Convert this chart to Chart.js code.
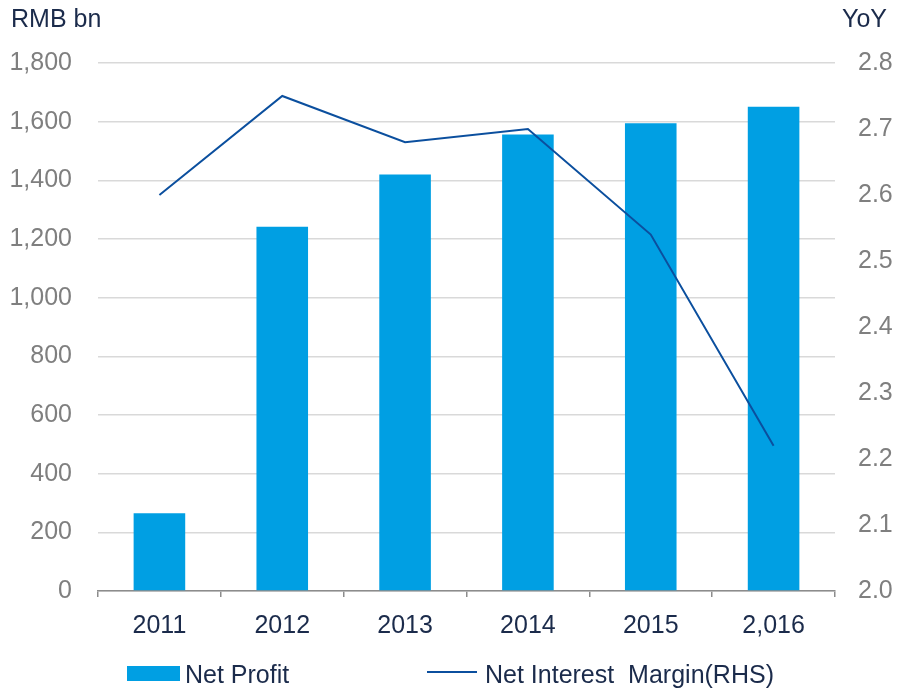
<!DOCTYPE html>
<html>
<head>
<meta charset="utf-8">
<script src="https://cdn.jsdelivr.net/npm/chart.js@4/dist/chart.umd.min.js"></script>
<style>
  html, body { margin: 0; padding: 0; background: #fff; }
  #wrap { width: 897px; height: 693px; position: relative; }
</style>
</head>
<body>
<div id="wrap"><canvas id="c" width="897" height="693"></canvas></div>
<script>
const categories = ['2011', '2012', '2013', '2014', '2015', '2,016'];
const netProfit = [265, 1242, 1420, 1556, 1595, 1651];
const netInterestMargin = [2.60, 2.75, 2.68, 2.70, 2.54, 2.22];
const leftTicks = [0, 200, 400, 600, 800, 1000, 1200, 1400, 1600, 1800];
const rightTicks = [2.0, 2.1, 2.2, 2.3, 2.4, 2.5, 2.6, 2.7, 2.8];
const leftTitle = 'RMB bn';
const rightTitle = 'YoY';
const seriesNames = ['Net Profit', 'Net Interest  Margin(RHS)'];

const FONT = '"Liberation Sans", Arial, sans-serif';
const FS = 25;
const NAVY = '#1b2b4b';
const GRAY = '#7f7f7f';
const BAR = '#009fe3';
const LINE = '#0b4f9e';

const extras = {
  id: 'extras',
  afterDraw(chart) {
    const ctx = chart.ctx;
    ctx.save();
    ctx.font = FS + 'px ' + FONT;
    ctx.fillStyle = NAVY;
    ctx.textBaseline = 'middle';
    ctx.textAlign = 'left';
    ctx.fillText(leftTitle, 11, 20);
    ctx.fillText(rightTitle, 842, 20);
    // legend
    ctx.fillStyle = BAR;
    ctx.fillRect(127, 666, 53, 15);
    ctx.fillStyle = NAVY;
    ctx.fillText(seriesNames[0], 185, 676);
    ctx.strokeStyle = LINE;
    ctx.lineWidth = 2;
    ctx.beginPath();
    ctx.moveTo(427, 672);
    ctx.lineTo(477, 672);
    ctx.stroke();
    ctx.fillText(seriesNames[1], 485, 676);
    ctx.restore();
  }
};

new Chart(document.getElementById('c'), {
  type: 'bar',
  data: {
    labels: categories,
    datasets: [
      {
        type: 'line',
        label: seriesNames[1],
        data: netInterestMargin,
        yAxisID: 'y1',
        borderColor: LINE,
        borderWidth: 2,
        pointRadius: 0,
        tension: 0,
        fill: false,
        order: 0
      },
      {
        type: 'bar',
        label: seriesNames[0],
        data: netProfit,
        yAxisID: 'y',
        backgroundColor: BAR,
        borderWidth: 0,
        categoryPercentage: 1.0,
        barPercentage: 0.42,
        order: 1
      }
    ]
  },
  options: {
    responsive: false,
    animation: false,
    devicePixelRatio: 1,
    layout: { padding: { top: 63, bottom: 42, left: 0, right: 0 } },
    plugins: {
      legend: { display: false },
      tooltip: { enabled: false }
    },
    scales: {
      x: {
        offset: true,
        grid: {
          offset: true,
          drawOnChartArea: false,
          drawTicks: true,
          tickLength: 6,
          color: '#8c8c8c',
          lineWidth: 1.5
        },
        border: { display: true, color: '#8c8c8c', width: 1.5 },
        ticks: { color: NAVY, font: { family: FONT, size: FS }, padding: 14, maxRotation: 0, autoSkip: false },
        afterFit(s) { s.height = 60; }
      },
      y: {
        position: 'left',
        min: 0,
        max: 1800,
        afterBuildTicks(s) { s.ticks = leftTicks.map(v => ({ value: v })); },
        grid: { color: '#d9d9d9', lineWidth: 1.5, drawTicks: false },
        border: { display: false },
        ticks: {
          color: GRAY,
          font: { family: FONT, size: FS },
          padding: 26,
          callback: v => v.toLocaleString('en-US')
        },
        afterFit(s) { s.width = 98; }
      },
      y1: {
        position: 'right',
        min: 2.0,
        max: 2.8,
        afterBuildTicks(s) { s.ticks = rightTicks.map(v => ({ value: v })); },
        grid: { drawOnChartArea: false, drawTicks: false },
        border: { display: false },
        ticks: {
          color: GRAY,
          font: { family: FONT, size: FS },
          padding: 23,
          callback: v => Number(v).toFixed(1)
        },
        afterFit(s) { s.width = 62; }
      }
    }
  },
  plugins: [extras]
});
</script>
</body>
</html>
